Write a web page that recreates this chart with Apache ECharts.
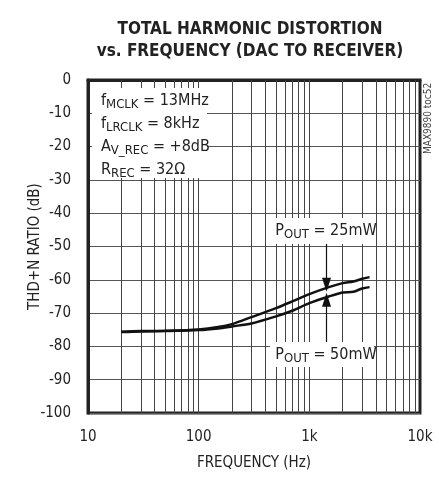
<!DOCTYPE html>
<html>
<head>
<meta charset="utf-8">
<script src="https://cdn.jsdelivr.net/npm/echarts@6/dist/echarts.min.js"></script>
<style>
  html, body { margin: 0; padding: 0; background: #fff; }
  #chart { width: 439px; height: 487px; }
</style>
</head>
<body>
<div id="chart"></div>
<script>
// frequencies (Hz)
const freqs = [20, 30, 50, 100, 150, 200, 300, 500, 700, 1000, 1500, 2000, 2500, 3000, 3500]
// THD+N (dB) for the two output powers
const thd25mW = [-75.6, -75.4, -75.3, -74.9, -74.2, -73.3, -71.2, -68.5, -66.5, -64.3, -62.2, -61.0, -60.5, -59.7, -59.2]
const thd50mW = [-75.7, -75.5, -75.4, -75.1, -74.6, -74.0, -73.1, -71.0, -69.3, -67.0, -65.0, -63.8, -63.6, -62.6, -62.2]

const xTickLabels = { 10: '10', 100: '100', 1000: '1k', 10000: '10k' }

const FONT = '"Liberation Sans Narrow", "DejaVu Sans Condensed", Arial, sans-serif'

// vertical log grid lines (2..9 in each decade)
const vLines = []
for (let d = 10; d < 10000; d *= 10) {
  for (let k = 1; k < 10; k++) {
    if (d * k > 10) vLines.push({ xAxis: d * k })
  }
}

const myChart = echarts.init(document.getElementById('chart'))

const option = {
  animation: false,
  backgroundColor: '#fff',
  grid: {
    left: 88,
    right: 19,
    top: 80,
    bottom: 74,
    show: true,
    borderColor: '#222',
    borderWidth: 3,
    backgroundColor: 'transparent'
  },
  xAxis: {
    type: 'log',
    logBase: 10,
    min: 10,
    max: 10000,
    name: 'FREQUENCY (Hz)',
    nameLocation: 'middle',
    nameGap: 43,
    nameTextStyle: { fontFamily: FONT, fontSize: 15, color: '#222' },
    axisLine: { show: true, lineStyle: { color: '#222', width: 3 } },
    axisTick: { show: false },
    splitLine: { show: false },
    axisLabel: {
      margin: 17,
      fontFamily: FONT,
      fontSize: 15,
      color: '#222',
      formatter: v => xTickLabels[Math.round(v)] || ''
    }
  },
  yAxis: {
    type: 'value',
    min: -100,
    max: 0,
    interval: 10,
    name: 'THD+N RATIO (dB)',
    nameLocation: 'middle',
    nameGap: 45,
    nameMoveOverlap: false,
    nameTextStyle: { fontFamily: FONT, fontSize: 15, color: '#222' },
    axisLine: { show: true, lineStyle: { color: '#222', width: 3 } },
    axisTick: { show: false },
    splitLine: { show: true, lineStyle: { color: '#555', width: 1 } },
    axisLabel: {
      margin: 17,
      fontFamily: FONT,
      fontSize: 15,
      color: '#222'
    }
  },
  series: [
    {
      name: 'grid',
      type: 'line',
      data: [],
      silent: true,
      markLine: {
        silent: true,
        symbol: ['none', 'none'],
        label: { show: false },
        lineStyle: { color: '#444', width: 1, type: 'solid' },
        data: vLines
      }
    },
    {
      name: '25mW',
      type: 'line',
      data: freqs.map((f, i) => [f, thd25mW[i]]),
      showSymbol: false,
      smooth: 0.3,
      lineStyle: { color: '#111', width: 2.5 },
      z: 5,
      markLine: {
        silent: true,
        symbol: ['none', 'triangle'],
        symbolSize: [9, 14],
        label: { show: false },
        lineStyle: { color: '#111', width: 1.2, type: 'solid' },
        data: [[{ coord: [1430, -49] }, { coord: [1430, -61.5] }]]
      }
    },
    {
      name: '50mW',
      type: 'line',
      data: freqs.map((f, i) => [f, thd50mW[i]]),
      showSymbol: false,
      smooth: 0.3,
      lineStyle: { color: '#111', width: 2.5 },
      z: 5,
      markLine: {
        silent: true,
        symbol: ['none', 'triangle'],
        symbolSize: [9, 14],
        label: { show: false },
        lineStyle: { color: '#111', width: 1.2, type: 'solid' },
        data: [[{ coord: [1430, -79] }, { coord: [1430, -66] }]]
      }
    }
  ],
  graphic: [
    {
      type: 'text',
      style: {
        x: 250, y: 41,
        text: 'TOTAL HARMONIC DISTORTION\nvs. FREQUENCY (DAC TO RECEIVER)',
        align: 'center',
        verticalAlign: 'middle',
        lineHeight: 22,
        fontFamily: FONT,
        fontWeight: 'bold',
        fontSize: 17,
        fill: '#222'
      }
    },
    // conditions box
    {
      type: 'rect',
      shape: { x: 92, y: 88, width: 115, height: 90 },
      style: { fill: '#fff' },
      z: 10
    },
    {
      type: 'text',
      z: 11,
      style: {
        x: 101, y: 89,
        text: '{b|f}{s|MCLK}{b| = 13MHz}\n{b|f}{s|LRCLK}{b| = 8kHz}\n{b|A}{s|V_REC}{b| = +8dB}\n{b|R}{s|REC}{b| = 32Ω}',
        lineHeight: 23,
        fontFamily: FONT,
        fontSize: 16,
        fill: '#222',
        rich: {
          b: { fontFamily: FONT, fontSize: 16, fill: '#222', lineHeight: 23 },
          s: { fontFamily: FONT, fontSize: 13, fill: '#222', padding: [8, 0, 0, 0], lineHeight: 23 }
        }
      }
    },
    // P_OUT labels
    {
      type: 'rect',
      shape: { x: 271, y: 218, width: 102, height: 26 },
      style: { fill: '#fff' },
      z: 10
    },
    {
      type: 'text',
      z: 11,
      style: {
        x: 326, y: 231,
        text: '{b|P}{s|OUT}{b| = 25mW}',
        align: 'center',
        verticalAlign: 'middle',
        rich: {
          b: { fontFamily: FONT, fontSize: 16, fill: '#222' },
          s: { fontFamily: FONT, fontSize: 13, fill: '#222', padding: [8, 0, 0, 0] }
        }
      }
    },
    {
      type: 'rect',
      shape: { x: 270, y: 342, width: 104, height: 25 },
      style: { fill: '#fff' },
      z: 10
    },
    {
      type: 'text',
      z: 11,
      style: {
        x: 326, y: 355,
        text: '{b|P}{s|OUT}{b| = 50mW}',
        align: 'center',
        verticalAlign: 'middle',
        rich: {
          b: { fontFamily: FONT, fontSize: 16, fill: '#222' },
          s: { fontFamily: FONT, fontSize: 13, fill: '#222', padding: [8, 0, 0, 0] }
        }
      }
    },
    // part number, vertical (reads bottom to top)
    {
      type: 'text',
      x: 423,
      y: 154,
      rotation: Math.PI / 2,
      style: {
        x: 0, y: 0,
        text: 'MAX9890 toc52',
        align: 'left',
        verticalAlign: 'top',
        fontFamily: FONT,
        fontSize: 10,
        fill: '#444'
      }
    }
  ]
}

myChart.setOption(option)
</script>
</body>
</html>
